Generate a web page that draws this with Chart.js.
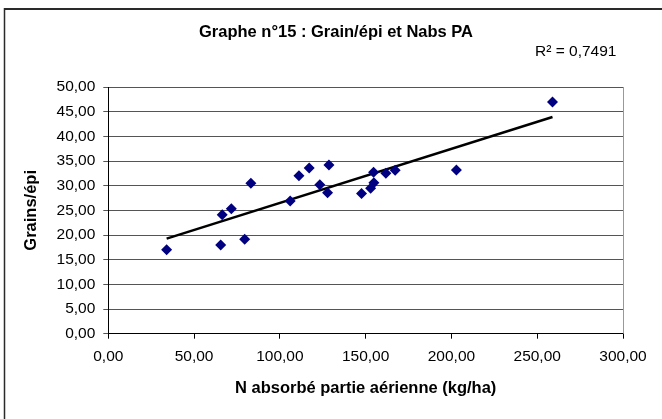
<!DOCTYPE html>
<html>
<head>
<meta charset="utf-8">
<script src="https://cdn.jsdelivr.net/npm/chart.js@4"></script>
<style>
  html, body { margin: 0; padding: 0; background: #fff; }
  #wrap { width: 662px; height: 419px; position: relative; }
</style>
</head>
<body>
<div id="wrap"><canvas id="chart"></canvas></div>
<script>
// ===== DONNEES =====
const nAbsorbe = [34.0, 65.5, 79.5, 66.4, 71.7, 83.1, 106.0, 111.1, 117.1, 123.3,
                  128.6, 127.8, 147.6, 152.9, 154.8, 154.6, 161.8, 167.2, 202.9, 258.9];
const grainsEpi = [17.0, 18.0, 19.15, 24.1, 25.3, 30.5, 26.9, 32.0, 33.6, 30.2,
                   34.2, 28.55, 28.4, 29.5, 30.6, 32.7, 32.5, 33.15, 33.2, 46.96];
const xTicks = [0, 50, 100, 150, 200, 250, 300];
const yTicks = [0, 5, 10, 15, 20, 25, 30, 35, 40, 45, 50];
const titre = 'Graphe n°15 : Grain/épi et Nabs PA';
const r2Label = 'R² = 0,7491';

// droite de tendance (moindres carrés)
const n = nAbsorbe.length;
const mx = nAbsorbe.reduce((a, b) => a + b, 0) / n;
const my = grainsEpi.reduce((a, b) => a + b, 0) / n;
let sxy = 0, sxx = 0;
for (let i = 0; i < n; i++) {
  sxy += (nAbsorbe[i] - mx) * (grainsEpi[i] - my);
  sxx += (nAbsorbe[i] - mx) ** 2;
}
const pente = sxy / sxx;
const origine = my - pente * mx;
const xMin = Math.min(...nAbsorbe), xMax = Math.max(...nAbsorbe);
const tendance = [xMin, xMax].map(x => ({ x: x, y: origine + pente * x }));

const fmt = v => v.toFixed(2).replace('.', ',');

const decor = {
  id: 'decor',
  afterDraw(chart) {
    const { ctx, chartArea: a } = chart;
    ctx.save();
    // cadre extérieur
    ctx.strokeStyle = '#2a2a2a';
    ctx.lineWidth = 2;
    ctx.beginPath(); ctx.moveTo(4, 9); ctx.lineTo(662, 9); ctx.stroke();
    ctx.lineWidth = 1.5;
    ctx.beginPath(); ctx.moveTo(4.5, 8); ctx.lineTo(4.5, 419); ctx.stroke();
    // bordure droite de la zone de traçage
    ctx.strokeStyle = '#999';
    ctx.lineWidth = 1;
    ctx.beginPath(); ctx.moveTo(a.right + 0.5, a.top); ctx.lineTo(a.right + 0.5, a.bottom); ctx.stroke();
    // titres
    ctx.fillStyle = '#000';
    ctx.textBaseline = 'middle';
    ctx.textAlign = 'center';
    ctx.font = 'bold 16.5px "Liberation Sans", Arial, sans-serif';
    ctx.fillText(titre, 336, 32);
    ctx.textAlign = 'left';
    ctx.font = '15.5px "Liberation Sans", Arial, sans-serif';
    ctx.fillText(r2Label, 535, 52);
    ctx.restore();
  }
};

new Chart(document.getElementById('chart'), {
  type: 'scatter',
  data: {
    datasets: [
      {
        label: 'Grains/épi',
        data: nAbsorbe.map((x, i) => ({ x: x, y: grainsEpi[i] })),
        pointStyle: 'rectRot',
        pointRadius: 5.5,
        pointHoverRadius: 5.5,
        backgroundColor: '#000080',
        borderColor: '#000080',
        borderWidth: 0,
        order: 1
      },
      {
        label: 'Tendance',
        type: 'line',
        data: tendance,
        borderColor: '#000',
        borderWidth: 2.5,
        pointRadius: 0,
        fill: false,
        order: 2
      }
    ]
  },
  options: {
    responsive: true,
    maintainAspectRatio: false,
    animation: false,
    layout: { padding: { top: 87, right: 39, bottom: 0, left: 0 } },
    plugins: { legend: { display: false }, tooltip: { enabled: false } },
    scales: {
      x: {
        type: 'linear',
        min: 0, max: 300,
        afterBuildTicks: s => { s.ticks = xTicks.map(v => ({ value: v })); },
        afterFit: s => { s.height = 85.3; },
        grid: { drawOnChartArea: false, drawTicks: true, tickLength: 5, color: '#000' },
        border: { color: '#000', width: 1 },
        ticks: {
          color: '#000', padding: 9,
          font: { family: '"Liberation Sans", Arial, sans-serif', size: 15.5 },
          callback: v => fmt(v)
        },
        title: {
          display: true,
          text: 'N absorbé partie aérienne (kg/ha)',
          color: '#000',
          font: { family: '"Liberation Sans", Arial, sans-serif', size: 16.5, weight: 'bold' },
          padding: { top: 0, bottom: 21 }
        }
      },
      y: {
        type: 'linear',
        min: 0, max: 50,
        afterBuildTicks: s => { s.ticks = yTicks.map(v => ({ value: v })); },
        afterFit: s => { s.width = 108.3; },
        grid: { color: '#555', lineWidth: 1, tickLength: 5, drawTicks: true },
        border: { color: '#000', width: 1 },
        ticks: {
          color: '#000', padding: 8,
          font: { family: '"Liberation Sans", Arial, sans-serif', size: 15.5 },
          callback: v => fmt(v)
        },
        title: {
          display: true,
          text: 'Grains/épi',
          color: '#000',
          font: { family: '"Liberation Sans", Arial, sans-serif', size: 16.5, weight: 'bold' },
          padding: { top: 22, bottom: 0 }
        }
      }
    }
  },
  plugins: [decor]
});
</script>
</body>
</html>
